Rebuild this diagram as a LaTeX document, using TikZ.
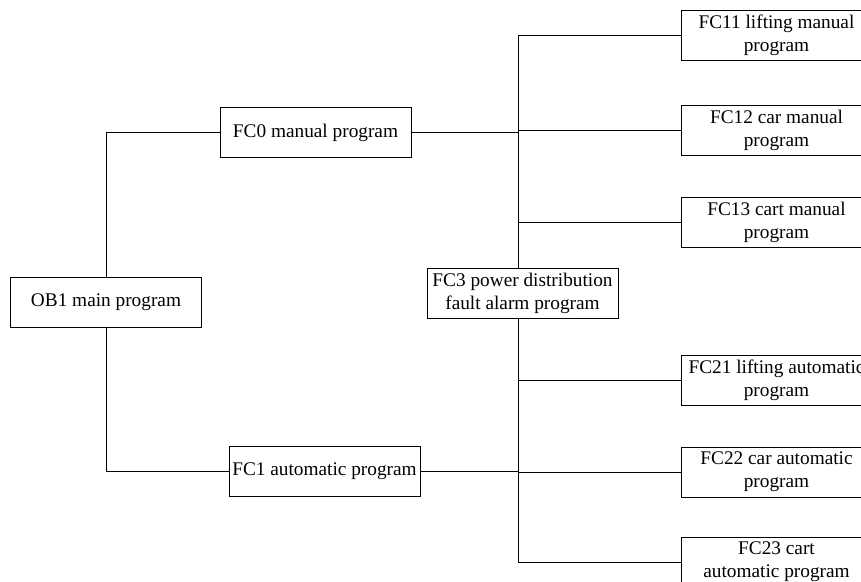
\documentclass[tikz,border=0pt]{standalone}
\usepackage{fontspec}
\setmainfont{Liberation Serif}
\usetikzlibrary{positioning}

\begin{document}
\begin{tikzpicture}[x=1pt,y=-1pt,font=\fontsize{19.3}{23}\selectfont,
  prog/.style={draw,line width=0.8pt,minimum width=191pt,minimum height=50pt,inner sep=2pt,align=center},
  link/.style={line width=0.8pt}]
  \useasboundingbox (0,0) rectangle (861,581);
  % main and first level
  \node[prog] (ob1) at (106,302) {OB1 main program};
  \node[prog] (fc0) at (315.5,132.5) {FC0 manual program};
  \node[prog] (fc1) at (324.5,471) {FC1 automatic program};
  \node[prog] (fc3) at (522.5,293) {FC3 power distribution\\fault alarm program};
  % sub programs
  \node[prog] (fc11) at (776.5,35) {FC11 lifting manual\\program};
  \node[prog] (fc12) at (776.5,130) {FC12 car manual\\program};
  \node[prog] (fc13) at (776.5,222) {FC13 cart manual\\program};
  \node[prog] (fc21) at (776.5,380) {FC21 lifting automatic\\program};
  \node[prog] (fc22) at (776.5,472) {FC22 car automatic\\program};
  \node[prog] (fc23) at (776.5,562) {FC23 cart\\automatic program};
  % connectors
  \coordinate (bustop) at (518,35);
  \coordinate (busbot) at (518,562);
  \draw[link] (ob1.north) |- (fc0.west);
  \draw[link] (ob1.south) |- (fc1.west);
  \draw[link] (fc11.west) -- (bustop) -- (bustop |- fc3.north);
  \draw[link] (fc23.west) -- (busbot) -- (busbot |- fc3.south);
  \draw[link] (fc0.east) -- (fc0.east -| bustop);
  \draw[link] (fc1.east) -- (fc1.east -| bustop);
  \foreach \n in {fc12,fc13,fc21,fc22}
    \draw[link] (\n.west) -- (\n.west -| bustop);
\end{tikzpicture}
\end{document}
